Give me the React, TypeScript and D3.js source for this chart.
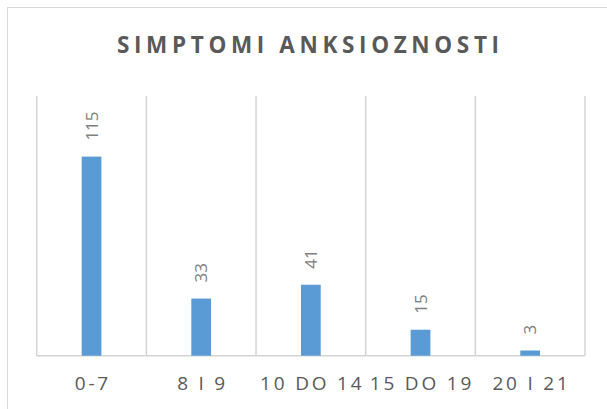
import React from 'react';
import * as d3 from 'd3';

const categories = ['0-7', '8 I 9', '10 DO 14', '15 DO 19', '20 I 21'];
const values = [115, 33, 41, 15, 3];
const yMax = 150;
const title = 'SIMPTOMI ANKSIOZNOSTI';

const width = 607;
const height = 409;
const margin = { top: 96, right: 22, bottom: 53.3, left: 36.7 };

export default function App() {
  const x = d3
    .scaleBand<string>()
    .domain(categories)
    .range([margin.left, width - margin.right])
    .padding(0);

  const y = d3
    .scaleLinear()
    .domain([0, yMax])
    .range([height - margin.bottom, margin.top]);

  const barW = x.bandwidth() * 0.18;
  const gridXs = categories.map((c) => x(c) as number).concat([x.range()[1]]);
  const font = "'Open Sans', 'DejaVu Sans', sans-serif";

  return (
    <svg
      width={width}
      height={height}
      style={{ position: 'absolute', left: 0, top: 0, background: '#fff' }}
    >
      <rect x={7.5} y={7.5} width={620} height={420} fill="#fff" stroke="#d9d9d9" strokeWidth={1} />

      <text
        x={117}
        y={52.5}
        textLength={382}
        lengthAdjust="spacing"
        fontFamily={font}
        fontWeight="bold"
        fontSize={22.5}
        fill="#595959"
      >
        {title}
      </text>

      {gridXs.map((gx, i) => (
        <line
          key={'g' + i}
          x1={gx}
          x2={gx}
          y1={y(yMax)}
          y2={y(0)}
          stroke="#d4d4d4"
          strokeWidth={1.5}
        />
      ))}
      <line
        x1={x.range()[0]}
        x2={x.range()[1]}
        y1={y(0)}
        y2={y(0)}
        stroke="#d4d4d4"
        strokeWidth={1.5}
      />

      {categories.map((c, i) => {
        const cx = (x(c) as number) + x.bandwidth() / 2;
        return (
          <g key={c}>
            <rect
              x={cx - barW / 2}
              y={y(values[i])}
              width={barW}
              height={y(0) - y(values[i])}
              fill="#5B9BD5"
            />
            <text
              transform={`translate(${cx + 6},${y(values[i]) - 16}) rotate(-90)`}
              fontFamily={font}
              fontSize={17}
              fill="#808080"
            >
              {values[i]}
            </text>
            <text
              x={cx + 1.4}
              y={390}
              textAnchor="middle"
              fontFamily={font}
              fontSize={19}
              letterSpacing={2.8}
              fill="#595959"
            >
              {c}
            </text>
          </g>
        );
      })}
    </svg>
  );
}
